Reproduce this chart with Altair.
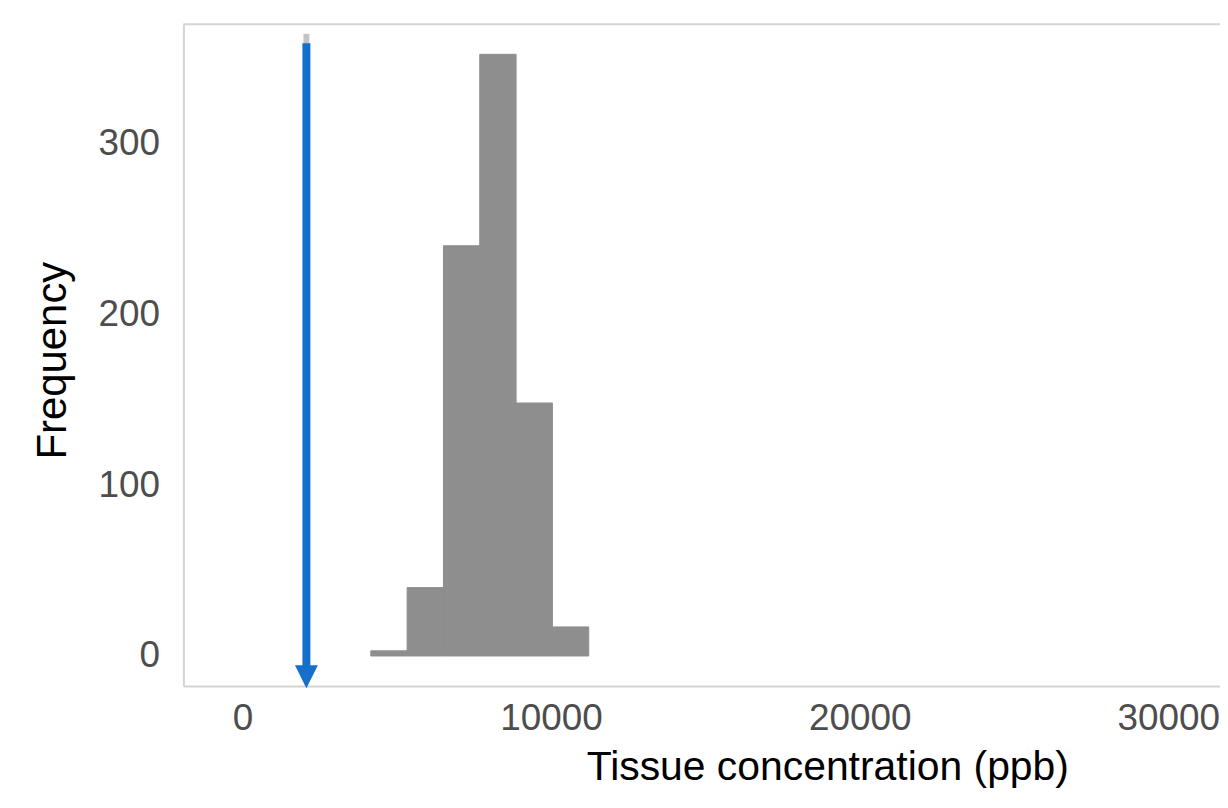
import altair as alt
import pandas as pd

# Histogram bins (ppb) and frequencies
bin_start = [4157, 5334, 6511, 7688, 8865, 10042]
bin_end = [5334, 6511, 7688, 8865, 10042, 11219]
counts = [3, 40, 240, 352, 148, 17]

x_ticks = [0, 10000, 20000, 30000]
y_ticks = [0, 100, 200, 300]

# Marker arrow (threshold) position in data units
marker_x = [2070]
arrow_top = [358.5]
arrow_shaft_end = [-6]
arrow_head_y = [-12.2]
gray_top = [364]
gray_bottom = [330]

W = 1040
H = 664
FONT = "Liberation Sans"

hist = pd.DataFrame({"start": bin_start, "end": bin_end, "count": counts})
marker = pd.DataFrame({
    "x": marker_x, "top": arrow_top, "shaft_end": arrow_shaft_end,
    "head": arrow_head_y, "gtop": gray_top, "gbot": gray_bottom,
})

xscale = alt.Scale(domain=[-1915, 31676], nice=False, zero=False)
yscale = alt.Scale(domain=[-17.6, 369.6], nice=False, zero=False)

x_axis = alt.Axis(
    values=x_ticks, format="d", grid=False, ticks=False, tickSize=0,
    domainColor="#d4d4d4", domainWidth=2,
    labelFont=FONT, labelFontSize=37, labelColor="#4d4d4d",
    labelBaseline="alphabetic", labelPadding=44, labelFlush=False, labelOverlap=False,
    title="Tissue concentration (ppb)", titleFont=FONT, titleFontSize=41,
    titleFontWeight="normal", titleColor="#000000", titleAlign="center",
    titleBaseline="alphabetic", titleX=646, titleY=94,
)
y_axis = alt.Axis(
    values=y_ticks, format="d", grid=False, ticks=False, tickSize=0,
    domainColor="#d4d4d4", domainWidth=2,
    labelFont=FONT, labelFontSize=37, labelColor="#4d4d4d",
    labelAlign="right", labelBaseline="middle", labelPadding=24, labelFlush=False,
    labelOverlap=False,
    title="Frequency", titleFont=FONT, titleFontSize=42, titleFontWeight="normal",
    titleColor="#000000", titleAngle=270, titleAlign="center",
    titleBaseline="alphabetic", titleX=-118, titleY=337,
)

bars = alt.Chart(hist).mark_rect(color="#8e8e8e", stroke="#8e8e8e", strokeWidth=1).encode(
    x=alt.X("start:Q", scale=xscale, axis=x_axis),
    x2="end:Q",
    y=alt.Y("count:Q", scale=yscale, axis=y_axis),
    y2=alt.datum(0),
)

gray_line = alt.Chart(marker).mark_rule(color="#c4c4c4", strokeWidth=6).encode(
    x=alt.X("x:Q", scale=xscale, axis=x_axis),
    y=alt.Y("gtop:Q", scale=yscale, axis=y_axis),
    y2="gbot:Q",
)

shaft = alt.Chart(marker).mark_rule(color="#1570cb", strokeWidth=8, strokeCap="butt").encode(
    x=alt.X("x:Q", scale=xscale, axis=x_axis),
    y=alt.Y("top:Q", scale=yscale, axis=y_axis),
    y2="shaft_end:Q",
)

head = alt.Chart(marker).mark_point(
    shape="M-1,-1L1,-1L0,1Z", size=529, filled=True, color="#1570cb", opacity=1,
    strokeWidth=0,
).encode(
    x=alt.X("x:Q", scale=xscale, axis=x_axis),
    y=alt.Y("head:Q", scale=yscale, axis=y_axis),
)

top_border = alt.Chart(marker).mark_rule(color="#d4d4d4", strokeWidth=2).encode(
    x=alt.value(0), x2=alt.value(W), y=alt.value(0),
)

chart = alt.layer(bars, gray_line, shaft, head, top_border).properties(
    width=W, height=H,
    autosize=alt.AutoSizeParams(type="none"),
    padding={"left": 176, "top": 15, "right": 0, "bottom": 108},
    background="#ffffff",
).configure_view(stroke=None)

chart.save("out.html", embed_options={"renderer": "svg", "actions": False})
